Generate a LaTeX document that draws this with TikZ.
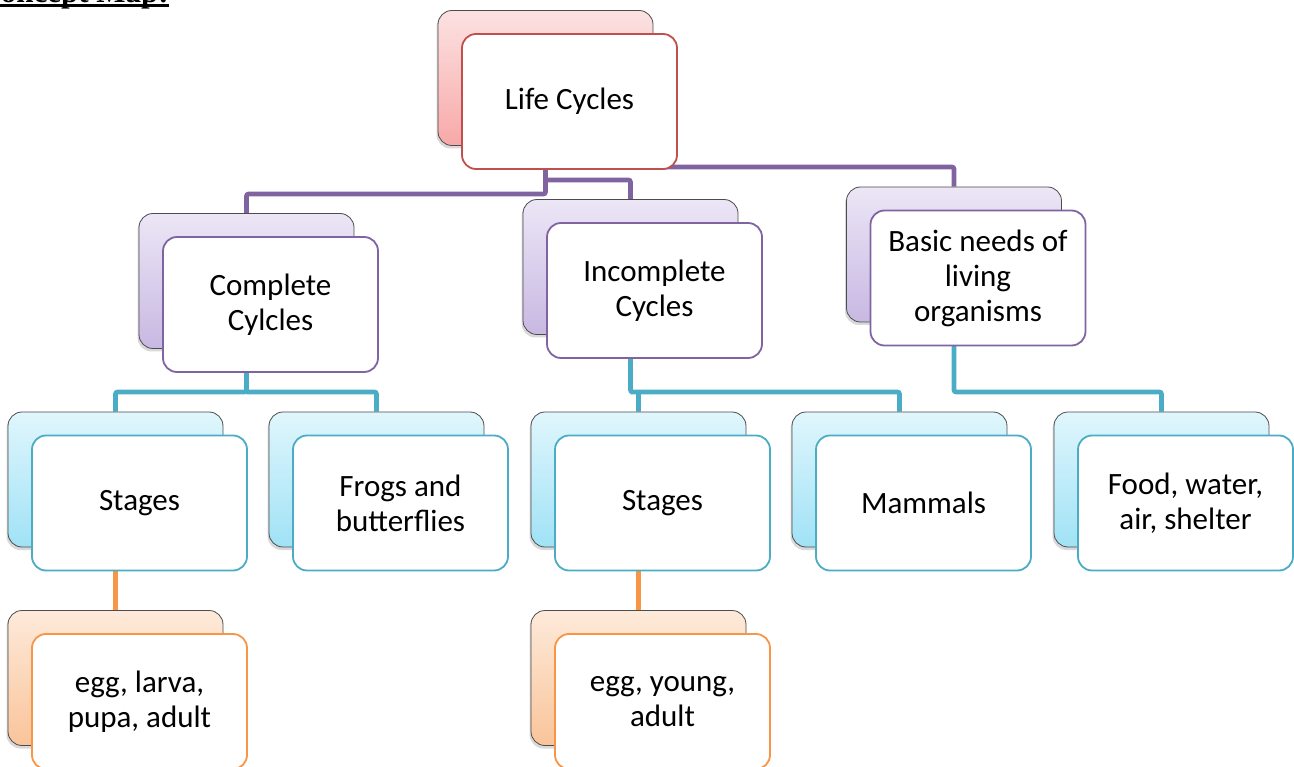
\documentclass[tikz,border=0pt]{standalone}
\usepackage{fontspec}
\setmainfont{Carlito}
\newfontfamily\titlefont{Liberation Serif}
\usetikzlibrary{arrows}
\usetikzlibrary{positioning,shapes,fit,shadows,backgrounds}
\usepackage{xcolor}

\definecolor{redtop}{RGB}{252,226,226}
\definecolor{redbot}{RGB}{248,168,168}
\definecolor{redline}{HTML}{C0504D}
\definecolor{violettop}{RGB}{236,230,246}
\definecolor{violetbot}{RGB}{200,184,226}
\definecolor{violetline}{HTML}{8064A2}
\definecolor{tealtop}{RGB}{224,246,252}
\definecolor{tealbot}{RGB}{160,226,246}
\definecolor{tealline}{HTML}{4BACC6}
\definecolor{orangetop}{RGB}{253,234,218}
\definecolor{orangebot}{RGB}{250,196,154}
\definecolor{orangeline}{HTML}{F79646}

\begin{document}
\begin{tikzpicture}[%
        x=1pt, y=-1pt,
        every node/.style={rounded corners=14pt, minimum width=215pt, minimum height=135pt, inner sep=0pt},
        back/.style={draw=black!70, line width=0.8pt, top color=#1top, bottom color=#1bot,
          drop shadow={shadow xshift=-1.5pt, shadow yshift=-3pt, opacity=0.3}},
        front/.style={draw=#1line, line width=1.8pt, fill=white, align=center,
          font=\fontsize{31}{35}\selectfont},
        link/.style={draw=#1line, line width=4.6pt, rounded corners=2pt}
      ]
      \useasboundingbox (0,0) rectangle (1294,767);

      % title, cut at the top edge
      \node [rounded corners=0pt, minimum width=0pt, minimum height=0pt, anchor=base east,
        font=\titlefont\bfseries\fontsize{31}{31}\selectfont] (t) at (169,3) {Concept Map:};
      \draw [line width=3pt] ([yshift=-2.5pt]t.base west) -- ([yshift=-2.5pt]t.base east);

      % back boxes
      \node [back=red] (0b) at (545.5,78) {};
      \node [back=violet] (1b) at (246.5,281) {};
      \node [back=violet] (2b) at (630.5,267) {};
      \node [back=violet] (3b) at (954,254.5) {};
      \node [back=teal] (4b) at (115.5,479.5) {};
      \node [back=teal] (5b) at (376.5,479.5) {};
      \node [back=teal] (6b) at (638.5,479.5) {};
      \node [back=teal] (7b) at (899.5,479.5) {};
      \node [back=teal] (8b) at (1161.5,479.5) {};
      \node [back=orange] (9b) at (115.5,678) {};
      \node [back=orange] (10b) at (638.5,678) {};

      % front boxes
      \node [front=red] (0) at ([shift={(24,23.5)}]0b.center) {Life Cycles};
      \node [front=violet] (1) at ([shift={(24,23.5)}]1b.center) {Complete\\Cylcles};
      \node [front=violet] (2) at ([shift={(24,23.5)}]2b.center) {Incomplete\\Cycles};
      \node [front=violet] (3) at ([shift={(24,23.5)}]3b.center) {Basic needs of\\living\\organisms};
      \node [front=teal] (4) at ([shift={(24,23.5)}]4b.center) {Stages};
      \node [front=teal] (5) at ([shift={(24,23.5)}]5b.center) {Frogs and\\butterflies};
      \node [front=teal] (6) at ([shift={(24,23.5)}]6b.center) {Stages};
      \node [front=teal] (7) at ([shift={(24,23.5)}]7b.center) {Mammals};
      \node [front=teal] (8) at ([shift={(24,23.5)}]8b.center) {Food, water,\\air, shelter};
      \node [front=orange] (9) at ([shift={(24,23.5)}]9b.center) {egg, larva,\\pupa, adult};
      \node [front=orange] (10) at ([shift={(24,23.5)}]10b.center) {egg, young,\\adult};

      \begin{pgfonlayer}{background}
      \path [link=violet] (0b.center) -- (0b.center |- 0,194) -| (1b.north)
      (0b.center) -- (0b.center |- 0,180) -| (2b.north)
      (0b.center) -- (0b.center |- 0,167) -| (3b.north);
      \path [link=teal] (1b.center) -- (1b.center |- 0,392) -| (4b.north)
      (1b.center |- 0,392) -| (5b.north)
      (2b.center) -- (2b.center |- 0,392) -| (6b.north)
      (2b.center |- 0,392) -| (7b.north)
      (3b.center) -- (3b.center |- 0,392) -| (8b.north);
      \path [link=orange] (4b.center) -- (9b.north)
      (6b.center) -- (10b.north);
      \end{pgfonlayer}
    \end{tikzpicture}
\end{document}
